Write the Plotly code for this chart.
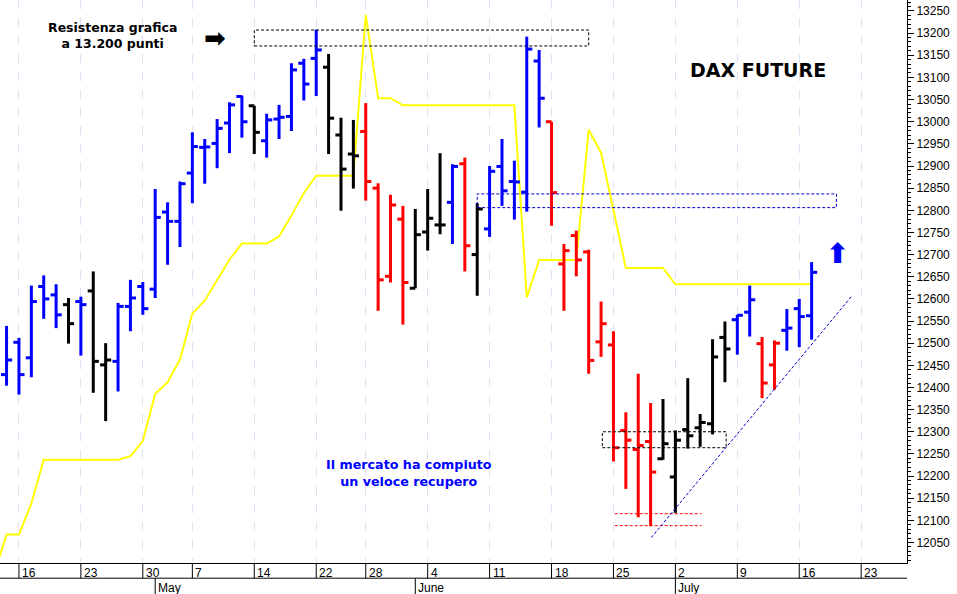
import plotly.graph_objects as go

# DAX future daily bars, index 0 = 13 Apr
opens  = [12429,12502,12467,12628,12609,12587,12594,12618,12451,12459,12583,12628,12622,12796,12775,12884,12942,
          12951,12997,13057,13036,12957,13006,13012,13132,13143,13123,12970,12927,12978,12850,12651,12780,12624,
          12751,12767,12818,12905,12700,12758,12899,12865,12841,13137,13000,12679,12743,12706,12503,12496,12303,
          12260,12278,12239,12198,12305,12309,12318,12513,12553,12570,12499,12451,12529,12578,12562]
highs  = [12539,12512,12630,12653,12633,12602,12605,12662,12500,12591,12643,12638,12848,12818,12865,12976,12961,
          13006,13044,13059,13036,13018,13038,13132,13142,13208,13153,13009,13004,13042,12861,12835,12810,12803,
          12848,12929,12904,12919,12816,12900,12961,12912,13192,13162,13000,12724,12754,12711,12594,12527,12344,
          12431,12365,12374,12303,12421,12340,12509,12549,12564,12630,12514,12506,12577,12600,12683]
lows   = [12404,12384,12423,12555,12534,12499,12472,12388,12324,12391,12527,12564,12602,12677,12717,12816,12860,
          12895,12929,12964,12927,12919,12961,12979,13048,13058,12927,12799,12849,12822,12573,12637,12542,12624,
          12709,12746,12724,12662,12607,12740,12810,12779,12797,12987,12765,12573,12651,12431,12469,12233,12171,
          12107,12087,12237,12117,12262,12266,12294,12412,12474,12515,12376,12395,12483,12491,12508]
closes = [12462,12429,12594,12600,12564,12544,12587,12459,12462,12583,12602,12578,12784,12775,12860,12944,12943,
          12985,13038,13000,12976,13004,13010,13117,13085,13162,13008,12893,12923,12865,12643,12812,12637,12745,
          12782,12767,12899,12720,12803,12888,12844,12864,13164,13053,12840,12709,12688,12461,12544,12264,12281,
          12269,12209,12273,12281,12291,12321,12469,12487,12563,12598,12410,12500,12534,12560,12660]
colors = (["b"] * 5 + ["k", "b", "k", "k"] + ["b"] * 11 + ["k"] + ["b"] * 5 + ["k"] * 3 + ["r"] * 4
          + ["k"] * 3 + ["b", "r", "k"] + ["b"] * 5 + ["r"] * 9 + ["k"] * 6 + ["b"] * 2 + ["r"] * 2 + ["b"] * 3)

# yellow indicator, index -1 .. 65
yellow = [11980,12068,12068,12138,12237,12237,12237,12237,12237,12237,12237,12245,12279,12386,12412,12463,12567,
          12596,12643,12689,12725,12725,12725,12741,12788,12839,12878,12878,12878,12878,13241,13053,13053,13037,
          13037,13037,13037,13037,13037,13037,13037,13037,13037,12603,12688,12688,12688,12688,12982,12930,12800,
          12670,12670,12670,12670,12633,12633,12633,12633,12633,12633,12633,12633,12633,12633,12633,12633]

day_pos = [1, 6, 11, 15, 20, 25, 29, 34, 39, 44, 49, 54, 59, 64, 69]
day_lab = ["16", "23", "30", "7", "14", "22", "28", "4", "11", "18", "25", "2", "9", "16", "23"]
month_pos = [12, 33, 54]
month_lab = ["May", "June", "July"]

cmap = {"b": "#0000ff", "k": "#000000", "r": "#ff0000"}
tw = 0.45

fig = go.Figure()
fig.add_trace(go.Scatter(x=list(range(-1, len(yellow) - 1)), y=yellow, mode="lines",
                         line=dict(color="#ffff00", width=2), hoverinfo="skip"))

for c in "kbr":
    xs, ys = [], []
    for i in range(len(opens)):
        if colors[i] != c:
            continue
        xs += [i, i, None, i - tw, i, None, i, i + tw, None]
        ys += [lows[i], highs[i], None, opens[i], opens[i], None, closes[i], closes[i], None]
    fig.add_trace(go.Scatter(x=xs, y=ys, mode="lines", line=dict(color=cmap[c], width=3), hoverinfo="skip"))

# rectangles and lines
dsh = "3px,2px"
fig.add_shape(type="rect", x0=20, x1=47, y0=13171, y1=13207, line=dict(color="black", width=1, dash=dsh))
fig.add_shape(type="rect", x0=38, x1=67, y0=12806, y1=12837, line=dict(color="#0000cc", width=1, dash=dsh))
fig.add_shape(type="rect", x0=48.1, x1=58.1, y0=12264, y1=12300, line=dict(color="black", width=1, dash=dsh))
for yv in [12115, 12088]:
    fig.add_shape(type="line", x0=49.1, x1=56.1, y0=yv, y1=yv, line=dict(color="red", width=1, dash=dsh))
fig.add_shape(type="line", x0=52.05, x1=68.2, y0=12061, y1=12605, line=dict(color="#0000cc", width=1, dash=dsh))

# x axis label rows
lab_font = dict(family="Liberation Sans, Arial", size=12, color="black")
for p, l in zip(day_pos, day_lab):
    fig.add_shape(type="line", xref="x", yref="paper", x0=p, x1=p, y0=0, y1=-0.027,
                  line=dict(color="black", width=1))
    fig.add_annotation(x=p, y=-0.002, xref="x", yref="paper", text=l, showarrow=False,
                       xanchor="left", yanchor="top", xshift=1, font=lab_font)
fig.add_shape(type="line", xref="paper", yref="paper", x0=0, x1=1, y0=-0.027, y1=-0.027,
              line=dict(color="black", width=1))
for p, l in zip(month_pos, month_lab):
    fig.add_shape(type="line", xref="x", yref="paper", x0=p, x1=p, y0=-0.027, y1=-0.06,
                  line=dict(color="black", width=1))
    fig.add_annotation(x=p, y=-0.028, xref="x", yref="paper", text=l, showarrow=False,
                       xanchor="left", yanchor="top", xshift=1, font=lab_font)

bold = "DejaVu Sans"
fig.add_annotation(x=0.124, y=13194, xref="paper", xanchor="center", text="<b>Resistenza grafica<br>a 13.200 punti</b>",
                   showarrow=False, font=dict(family=bold, size=12.5, color="black"))
fig.add_annotation(x=0.836, y=13117, xref="paper", xanchor="center", text="<b>DAX FUTURE</b>",
                   showarrow=False, font=dict(family=bold, size=19, color="black"))
fig.add_annotation(x=32.5, y=12206, xanchor="center", text="<b>Il mercato ha compiuto<br>un veloce recupero</b>",
                   showarrow=False, font=dict(family=bold, size=12.7, color="#0000ff"))
fig.add_annotation(x=16.8, y=13190, xanchor="center", text="<b>➡</b>", showarrow=False,
                   font=dict(family=bold, size=26, color="black"))
fig.add_annotation(x=67.1, y=12702, xanchor="center", text="<b>⬆</b>", showarrow=False,
                   font=dict(family=bold, size=28, color="#0000ff"))

fig.update_layout(
    width=957, height=594, showlegend=False,
    margin=dict(l=0, r=50, t=0, b=31),
    paper_bgcolor="white", plot_bgcolor="white",
    xaxis=dict(range=[-0.53, 72.7], tickvals=day_pos, showticklabels=False, showgrid=True,
               gridcolor="#e0e0f4", griddash="dash", gridwidth=1, zeroline=False,
               showline=True, linecolor="black", mirror=True, ticks=""),
    yaxis=dict(range=[12003.7, 13274.8], side="right", dtick=50, tickformat="d", showgrid=False,
               zeroline=False, showline=True, linecolor="black", mirror=True, ticks="outside", ticklen=6,
               tickcolor="black", minor=dict(dtick=10, ticks="outside", ticklen=3, tickcolor="black"),
               tickfont=dict(family="Liberation Sans, Arial", size=12, color="black")),
)

fig.write_html("out.html", config={"displayModeBar": False},
               post_script="document.body.style.margin='0';")
